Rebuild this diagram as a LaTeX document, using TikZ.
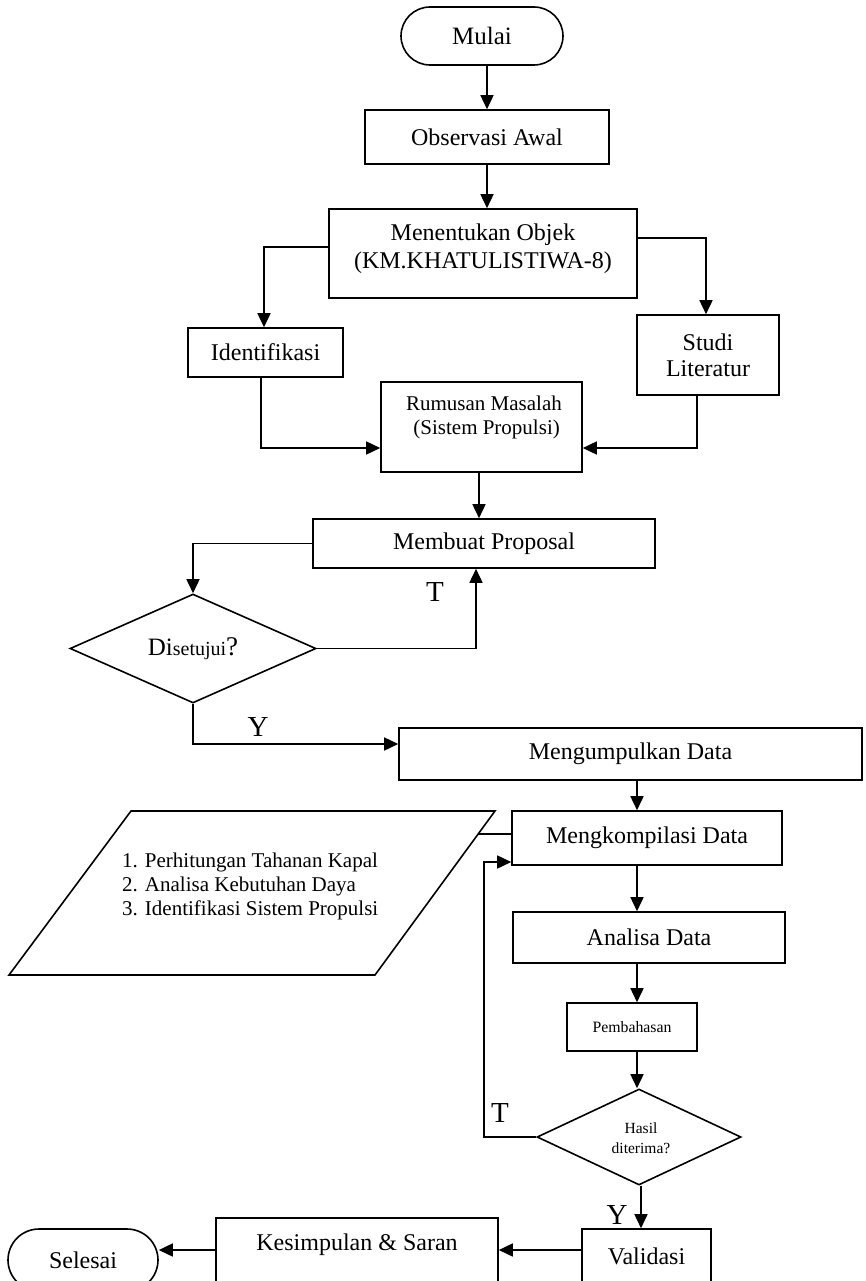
\documentclass[tikz,border=0pt]{standalone}
\usepackage{fontspec}
\setmainfont{Liberation Serif}
\usetikzlibrary{arrows.meta,calc,shapes.geometric}
\begin{document}
\begin{tikzpicture}[x=1pt,y=-1pt,
  bx/.style={draw, line width=1.6pt, inner sep=0pt, align=center, font=\fontsize{24}{26}\selectfont},
  dia/.style={draw, diamond, line width=1.6pt, inner sep=0pt, aspect=2},
  txt/.style={inner sep=0pt, align=center, font=\fontsize{24}{28}\selectfont},
  arr/.style={-{Triangle[length=14pt,width=13pt]}, line width=1.6pt},
  ln/.style={line width=1.6pt},
  lbl/.style={inner sep=0pt, font=\fontsize{29}{30}\selectfont}]
\useasboundingbox (0,0) rectangle (865,1281);
\clip (0,0) rectangle (865,1281);
\fill[white] (0,0) rectangle (865,1281);

% nodes
\node[bx, rounded corners=29pt, minimum width=162pt, minimum height=58pt, font=\fontsize{25}{26}\selectfont] (mulai) at (482,36) {Mulai};
\node[bx, minimum width=244pt, minimum height=54pt] (obs) at (487,137) {Observasi Awal};
\node[bx, minimum width=308pt, minimum height=89pt] (men) at (483,253.5) {};
\node[txt] (menT) at (483,249) {Menentukan Objek\\(KM.KHATULISTIWA-8)};
\node[bx, minimum width=155pt, minimum height=49pt] (ident) at (265.5,352.5) {Identifikasi};
\node[bx, minimum width=142pt, minimum height=80pt] (studi) at (708,355) {Studi\\Literatur};
\node[bx, minimum width=201pt, minimum height=90pt] (rum) at (481.5,427) {};
\node[txt, font=\fontsize{21}{24}\selectfont] (rumT) at (484,417) {Rumusan Masalah\\\ (Sistem Propulsi)};
\node[bx, minimum width=342pt, minimum height=49pt] (memb) at (484,543.5) {Membuat Proposal};
\node[dia, minimum width=246pt, minimum height=109pt] (dis) at (193,648.5) {};
\node[inner sep=0pt] (disT) at (193,649) {{\fontsize{25}{26}\selectfont Di}{\fontsize{20}{26}\selectfont setujui}{\fontsize{27}{26}\selectfont ?}};
\node[bx, minimum width=463pt, minimum height=52pt] (mengum) at (630.5,754) {Mengumpulkan Data};
\node[bx, minimum width=270pt, minimum height=54pt] (komp) at (647,838) {Mengkompilasi Data};
\node[bx, minimum width=272pt, minimum height=51pt] (anal) at (649,937.5) {Analisa Data};
\node[bx, minimum width=130pt, minimum height=48pt, font=\fontsize{15.8}{18}\selectfont] (pemb) at (632,1027) {Pembahasan};
\node[dia, minimum width=204pt, minimum height=96pt] (hasil) at (639,1137) {};
\node[txt, font=\fontsize{15.5}{20}\selectfont] (hasilT) at (641,1138) {Hasil\\diterima?};
\node[bx, minimum width=129pt, minimum height=54pt] (valid) at (646.5,1256) {Validasi};
\node[bx, minimum width=282pt, minimum height=82pt] (kes) at (357,1259) {};
\node[txt] (kesT) at (357,1245) {Kesimpulan \& Saran};
\node[bx, rounded corners=31pt, minimum width=150pt, minimum height=62pt] (sel) at (83,1260) {Selesai};

% parallelogram (data)
\coordinate (p1) at (131,811);
\coordinate (p2) at (495,811);
\coordinate (p3) at (375,975);
\coordinate (p4) at (9,975);
\draw[ln] (p1) -- (p2) -- (p3) -- (p4) -- cycle;
\coordinate (pR) at ($(p2)!0.14!(p3)$);
\node[anchor=west, align=left, inner sep=0pt, font=\fontsize{21}{24}\selectfont] (paraT) at (122,886)
  {1. Perhitungan Tahanan Kapal\\2. Analisa Kebutuhan Daya\\3. Identifikasi Sistem Propulsi};

% helper coordinates
\coordinate (yA) at (0,1250);
\coordinate (fb) at (484,1137);

% connectors
\draw[arr] (obs.north |- mulai.south) -- (obs.north);
\draw[arr] (obs.south) -- (men.north -| obs.south);
\draw[arr] ([yshift=6.5pt]men.west) -| ([xshift=-1.5pt]ident.north);
\draw[arr] ([yshift=15.5pt]men.east) -| ([xshift=-2pt]studi.north);
\draw[arr] ([xshift=-4.5pt]ident.south) |- ([yshift=-21pt]rum.west);
\draw[arr] ([xshift=-11pt]studi.south) |- ([yshift=-21pt]rum.east);
\draw[arr] ([xshift=-2.5pt]rum.south) -- ([xshift=-2.5pt]rum.south |- memb.north);
\draw[arr] (memb.west) -| (dis.north);
\draw[arr] (dis.east) -| ([xshift=-8pt]memb.south);
\draw[arr] (dis.south) |- ([yshift=10pt]mengum.west);
\draw[arr] ([xshift=-10pt]komp.north |- mengum.south) -- ([xshift=-10pt]komp.north);
\draw[ln] ([yshift=4pt]komp.west) -- (pR);
\draw[arr] ([xshift=-10pt]komp.south) -- ([xshift=-10pt]komp.south |- anal.north);
\draw[arr] ([xshift=-12pt]anal.south) -- ([xshift=-12pt]anal.south |- pemb.north);
\draw[arr] ([xshift=5pt]pemb.south) -- ([xshift=5pt]pemb.south |- hasil.north);
\draw[arr] (hasil.west) -- (fb) |- ([yshift=-24pt]komp.west);
\draw[arr] ([xshift=2pt]hasil.south) -- ([xshift=2pt]hasil.south |- valid.north);
\draw[arr] (valid.west |- yA) -- (kes.east |- yA);
\draw[arr] (kes.west |- yA) -- (sel.east |- yA);

% labels
\node[lbl] (t1) at (435,592) {T};
\node[lbl] (y1) at (258,727) {Y};
\node[lbl] (t2) at (500,1113) {T};
\node[lbl] (y2) at (617,1215) {Y};
\end{tikzpicture}
\end{document}
